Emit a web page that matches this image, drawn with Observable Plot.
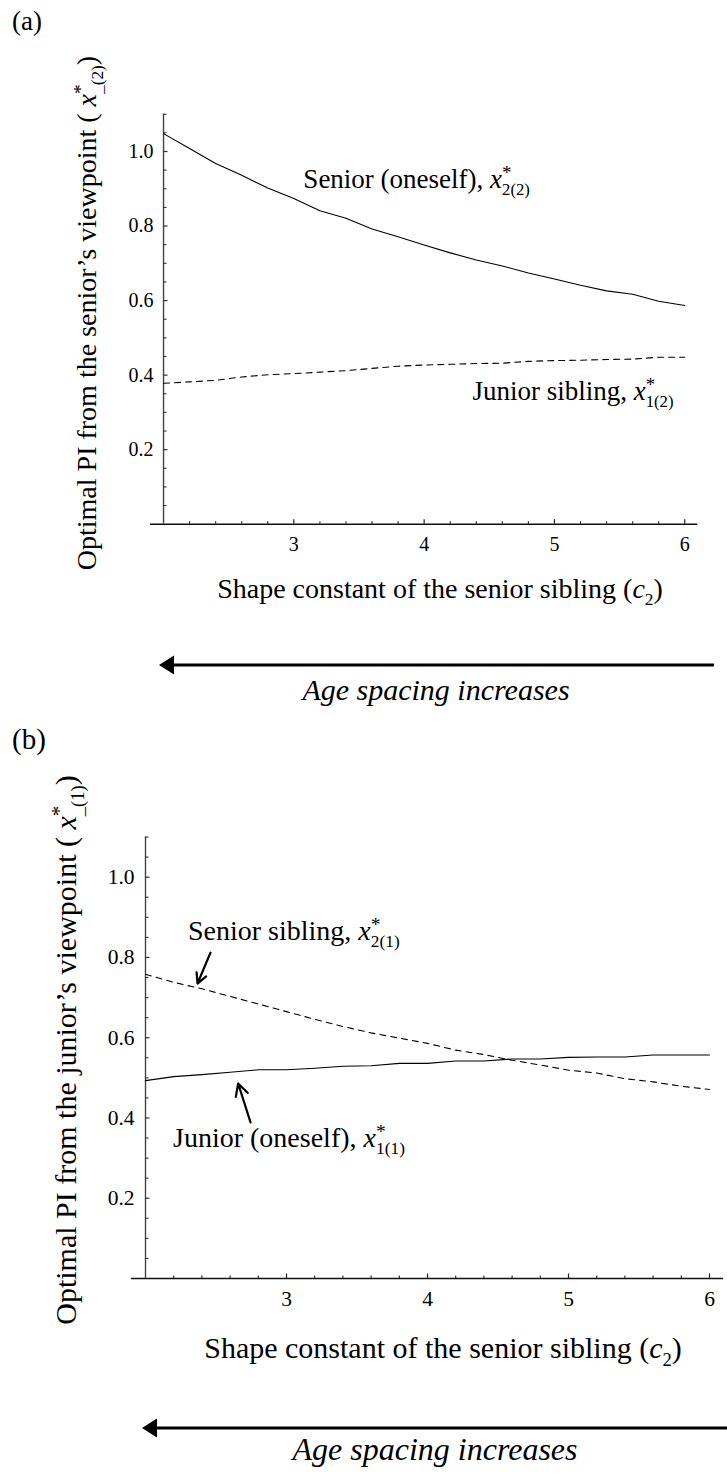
<!DOCTYPE html>
<html><head><meta charset="utf-8">
<script src="https://cdn.jsdelivr.net/npm/d3@7"></script>
<script src="https://cdn.jsdelivr.net/npm/@observablehq/plot@0.6"></script>
<style>
body{margin:0;background:#fff;}
#page{position:relative;width:727px;height:1474px;overflow:hidden;}
.panel{position:absolute;left:0;}
svg{overflow:visible}
</style></head><body><div id="page"><div id="pa" class="panel" style="top:0px"></div><div id="pb" class="panel" style="top:700px"></div></div>
<script>
// ---- data ----
const c2 = [2.0,2.2,2.4,2.6,2.8,3.0,3.2,3.4,3.6,3.8,4.0,4.2,4.4,4.6,4.8,5.0,5.2,5.4,5.6,5.8,6.0];
// panel (a): senior's viewpoint
const seniorA = [1.048,1.008,0.968,0.936,0.902,0.874,0.841,0.821,0.792,0.771,0.749,0.728,0.709,0.693,0.674,0.658,0.641,0.626,0.617,0.598,0.587];
const juniorA = [0.378,0.382,0.386,0.395,0.401,0.404,0.408,0.412,0.418,0.424,0.427,0.429,0.431,0.432,0.437,0.439,0.440,0.442,0.443,0.448,0.448];
// panel (b): junior's viewpoint
const seniorB = [0.758,0.738,0.722,0.703,0.684,0.665,0.646,0.628,0.612,0.599,0.586,0.569,0.558,0.544,0.532,0.519,0.512,0.498,0.490,0.479,0.471];
const juniorB = [0.493,0.503,0.508,0.514,0.520,0.520,0.524,0.529,0.530,0.536,0.536,0.542,0.542,0.547,0.547,0.551,0.552,0.552,0.557,0.557,0.557];
// ticks
const xMajor = [3,4,5,6];
const xMinor = [2.2,2.4,2.6,2.8,3.2,3.4,3.6,3.8,4.2,4.4,4.6,4.8,5.2,5.4,5.6,5.8];
const yMajor = [0.2,0.4,0.6,0.8,1.0];
const yMinor = [0.05,0.1,0.15,0.25,0.3,0.35,0.45,0.5,0.55,0.65,0.7,0.75,0.85,0.9,0.95,1.05,1.1];
const xDomain = [1.9, 6.1];
const yDomain = [0, 1.1];
// annotations
const annA = [
  {x: 3.077, y: 0.901, text: "Senior (oneself), ", sub: "2(2)"},
  {x: 4.374, y: 0.332, text: "Junior sibling, ", sub: "1(2)"}
];
const annB = [
  {x: 2.305, y: 0.842, text: "Senior sibling, ", sub: "2(1)"},
  {x: 2.199, y: 0.326, text: "Junior (oneself), ", sub: "1(1)"}
];
const arrowsB = [
  {x1: 2.461, y1: 0.812, x2: 2.369, y2: 0.735},
  {x1: 2.745, y1: 0.389, x2: 2.657, y2: 0.486}
];
const xTitle = "Shape constant of the senior sibling (";
const yTitleA = "Optimal PI from the senior\u2019s viewpoint (";
const yTitleB = "Optimal PI from the junior\u2019s viewpoint (";
const ageText = "Age spacing increases";

const serif = '"Liberation Serif","Times New Roman",Times,serif';

function rich(sel, x, y, F, segs, opts = {}) {
  const t = sel.append("text").attr("x", x).attr("y", y)
    .attr("font-size", F).attr("font-family", serif).attr("fill", "#000")
    .attr("text-anchor", opts.anchor || "start");
  if (opts.rotate) t.attr("transform", `rotate(${opts.rotate},${x},${y})`);
  if (opts.italic) t.attr("font-style", "italic");
  let shift = 0;
  for (const s of segs) {
    const sp = t.append("tspan").text(s.t);
    let target = 0, fs = F;
    if (s.sup) { target = -0.33 * F; fs = 0.7 * F; }
    if (s.sub) { target = 0.26 * F; fs = 0.62 * F; }
    sp.attr("font-size", fs);
    if (target !== shift) { sp.attr("dy", target - shift); shift = target; }
    if (s.back) sp.attr("dx", -0.35 * F);
    if (s.i) sp.attr("font-style", "italic");
  }
  return t;
}

function makePanel(cfg) {
  const unitY = (cfg.y0 - cfg.mt) / (yDomain[1] - yDomain[0]);
  const unitX = (cfg.xr - cfg.ml) / (xDomain[1] - xDomain[0]);
  const data = c2.map((c, i) => ({c, senior: cfg.senior[i], junior: cfg.junior[i]}));
  const dash = "6,5";
  const marks = [
    Plot.ruleY([0], {stroke: "#111", strokeWidth: 1.4}),
    Plot.ruleX([2], {y1: yDomain[0], y2: yDomain[1], stroke: "#444", strokeWidth: 1.4}),
    Plot.ruleX(xMinor, {y1: 0, y2: 2.5 / unitY, stroke: "#222", strokeWidth: 1.1}),
    Plot.ruleX(xMajor, {y1: 0, y2: 4.5 / unitY, stroke: "#222", strokeWidth: 1.2}),
    Plot.ruleY(yMinor, {x1: 2, x2: 2 + 3.5 / unitX, stroke: "#333", strokeWidth: 1.1}),
    Plot.ruleY(yMajor, {x1: 2, x2: 2 + 4.5 / unitX, stroke: "#333", strokeWidth: 1.2}),
    Plot.text(xMajor, {x: d => d, y: 0, dy: cfg.xLabDy, text: d => String(d), fontSize: cfg.tickFs, fontFamily: serif, fill: "#000"}),
    Plot.text(yMajor, {x: 2, y: d => d, dx: -cfg.yLabDx, textAnchor: "end", text: d => d.toFixed(1), fontSize: cfg.tickFs, fontFamily: serif, fill: "#000"}),
    Plot.line(data, {x: "c", y: "senior", stroke: "#000", strokeWidth: 1.1, ...(cfg.seniorDash ? {strokeDasharray: dash} : {})}),
    Plot.line(data, {x: "c", y: "junior", stroke: "#000", strokeWidth: 1.1, ...(cfg.seniorDash ? {} : {strokeDasharray: dash})})
  ];
  if (cfg.arrows) marks.push(Plot.arrow(cfg.arrows, {x1: "x1", y1: "y1", x2: "x2", y2: "y2", stroke: "#000", strokeWidth: 2.2, headLength: 22, headAngle: 55}));
  const plot = Plot.plot({
    width: 727, height: cfg.H,
    marginTop: cfg.mt, marginBottom: cfg.H - cfg.y0, marginLeft: cfg.ml, marginRight: 727 - cfg.xr,
    x: {domain: xDomain, axis: null},
    y: {domain: yDomain, axis: null},
    style: {fontFamily: serif, color: "#000", background: "none", overflow: "visible"},
    marks
  });
  const sx = plot.scale("x"), sy = plot.scale("y");
  const svg = d3.select(plot);
  // curve annotations
  for (const a of cfg.ann) {
    rich(svg, sx.apply(a.x), sy.apply(a.y), cfg.annFs, [
      {t: a.text}, {t: "x", i: true}, {t: "*", sup: true}, {t: a.sub, sub: true, back: true}
    ]);
  }
  // x title
  rich(svg, cfg.xt.x, cfg.xt.y, cfg.xt.F, [{t: xTitle}, {t: "c", i: true}, {t: "2", sub: true}, {t: ")"}], {anchor: "middle"});
  // y title
  rich(svg, cfg.yt.x, cfg.yt.y, cfg.yt.F, [{t: cfg.yTitle + " "}, {t: "x", i: true}, {t: "*", sup: true}, {t: cfg.ySub, sub: true, back: true}, {t: ")"}], {anchor: "middle", rotate: -90});
  // panel label
  svg.append("text").attr("x", cfg.pl.x).attr("y", cfg.pl.y).attr("font-size", cfg.pl.F)
    .attr("text-anchor", "start").attr("font-family", serif).attr("fill", "#000").text(cfg.pl.t);
  // age spacing arrow
  const ag = cfg.age;
  svg.append("line").attr("x1", ag.tip + 12).attr("x2", ag.end).attr("y1", ag.y).attr("y2", ag.y)
    .attr("stroke", "#000").attr("stroke-width", 3.2);
  svg.append("path").attr("d", `M${ag.tip},${ag.y}L${ag.tip + 15},${ag.y - 9.5}L${ag.tip + 15},${ag.y + 9.5}Z`).attr("fill", "#000");
  svg.append("text").attr("x", ag.tx).attr("y", ag.ty).attr("font-size", ag.F).attr("font-style", "italic")
    .attr("text-anchor", "middle").attr("font-family", serif).attr("fill", "#000").text(ageText);
  document.getElementById(cfg.el).appendChild(plot);
}

makePanel({
  el: "pa", H: 700, y0: 523.7, mt: 523.7 - 1.1 * 372.7, ml: 150, xr: 697.3,
  senior: seniorA, junior: juniorA, seniorDash: false,
  tickFs: 20, xLabDy: 20, yLabDx: 10, annFs: 27, ann: annA,
  xt: {x: 440, y: 598, F: 28}, yt: {x: 96, y: 313, F: 28}, yTitle: yTitleA, ySub: "_(2)",
  pl: {x: 12, y: 30, F: 27, t: "(a)"},
  age: {y: 665, tip: 159, end: 714, tx: 436, ty: 700, F: 30}
});
makePanel({
  el: "pb", H: 774, y0: 578, mt: 578 - 1.1 * 401.3, ml: 130.9, xr: 723.1,
  senior: seniorB, junior: juniorB, seniorDash: true,
  tickFs: 21.5, xLabDy: 21, yLabDx: 11, annFs: 28, ann: annB, arrows: arrowsB,
  xt: {x: 443, y: 658, F: 30}, yt: {x: 76, y: 350, F: 30}, yTitle: yTitleB, ySub: "_(1)",
  pl: {x: 12, y: 49, F: 29, t: "(b)"},
  age: {y: 728, tip: 142, end: 727, tx: 435, ty: 760, F: 32}
});
</script></body></html>
